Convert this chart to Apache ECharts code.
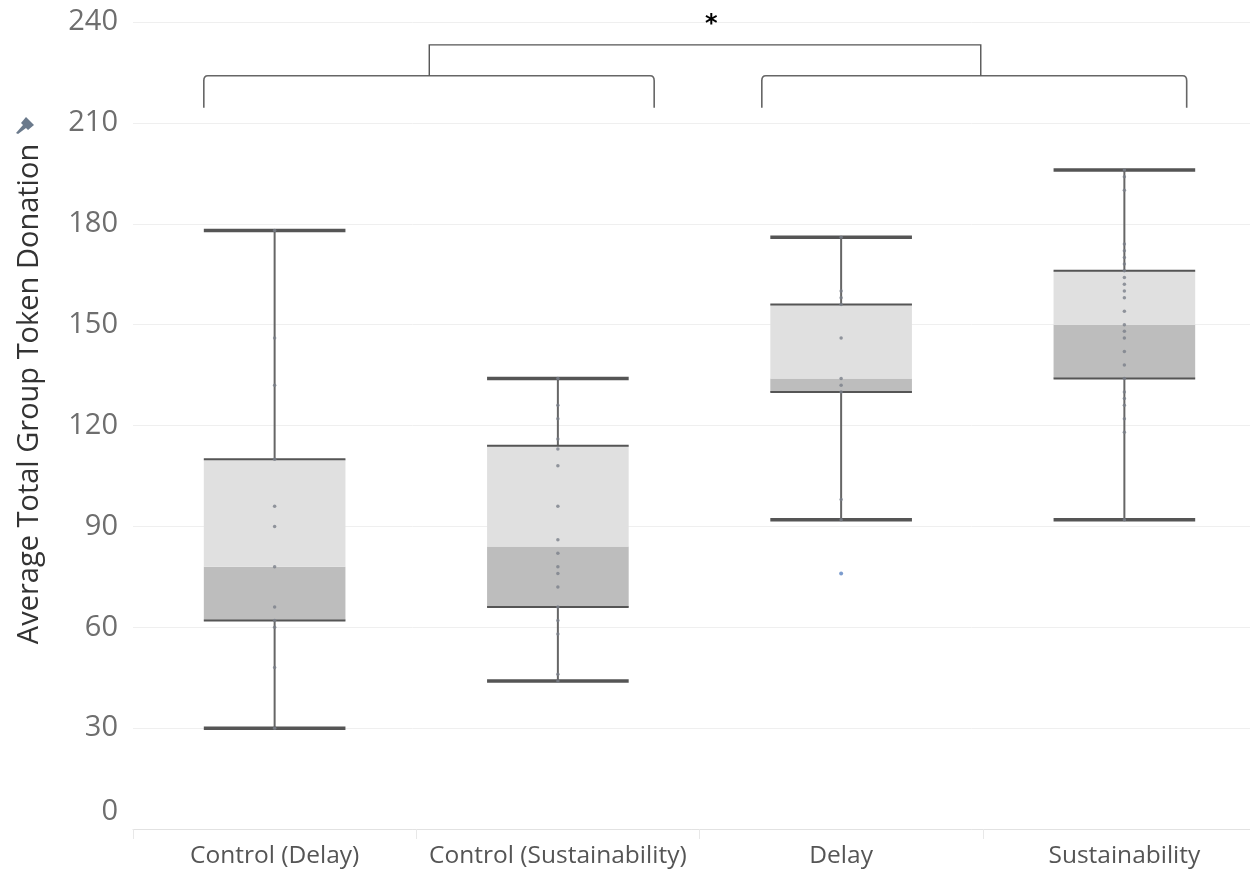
<!DOCTYPE html>
<html><head><meta charset="utf-8">
<script src="https://cdn.jsdelivr.net/npm/echarts@6/dist/echarts.min.js"></script>
<style>html,body{margin:0;padding:0;background:#fff}#c{width:1250px;height:874px}</style>
</head><body><div id="c"></div>
<script>
const categories = ['Control (Delay)', 'Control (Sustainability)', 'Delay', 'Sustainability'];
const whiskerLow  = [30, 44, 92, 92];
const q1          = [62, 66, 130, 134];
const median      = [78, 84, 134, 150];
const q3          = [110, 114, 156, 166];
const whiskerHigh = [178, 134, 176, 196];

const pointsControlDelay = [30, 48, 60, 62, 66, 78, 90, 96, 110, 132, 146, 178];
const pointsControlSust  = [44, 46, 58, 62, 66, 72, 76, 78, 82, 86, 96, 108, 113, 116, 122, 126, 134];
const pointsDelay        = [92, 98, 130, 132, 134, 146, 156, 158, 160, 176];
const pointsSust         = [92, 118, 122, 126, 128, 130, 134, 138, 142, 146, 148, 150, 154, 158, 160, 162, 164, 166, 168, 170, 172, 174, 190, 194, 196];
const outlierPoints      = [[2, 76]];

const yTicks = [0, 30, 60, 90, 120, 150, 180, 210, 240];

// significance brackets (x in category units, y in data units)
const groupBrackets = [[-0.25, 1.34, 224, 214.5], [1.72, 3.22, 224, 214.5]];
const topBracket = [0.546, 2.493, 233.2, 224];
const starPos = [1.542, 239.3];

const chart = echarts.init(document.getElementById('c'));

const boxData = categories.map((c, i) => [i, whiskerLow[i], q1[i], median[i], q3[i], whiskerHigh[i]]);
const allPoints = [pointsControlDelay, pointsControlSust, pointsDelay, pointsSust];
const scatterData = [];
allPoints.forEach((arr, i) => arr.forEach(v => scatterData.push([i, v])));

const option = {
  animation: false,
  backgroundColor: '#ffffff',
  grid: { left: 133, width: 1133, top: 22, bottom: 45, outerBoundsMode: 'none', containLabel: false },
  xAxis: {
    type: 'category',
    data: categories,
    axisLine: { lineStyle: { color: '#e2e2e2', width: 1 } },
    axisTick: { show: true, interval: 0, length: 10, lineStyle: { color: '#e8e8e8' } },
    axisLabel: { interval: 0, color: '#555', fontSize: 24.5, fontFamily: '"Open Sans"', margin: 15 },
    splitLine: { show: false }
  },
  yAxis: {
    type: 'value',
    min: 0, max: 240, interval: 30,
    axisLine: { show: false },
    axisTick: { show: false },
    splitLine: { lineStyle: { color: '#efefef', width: 1 } },
    axisLabel: {
      color: '#6e6e6e', fontSize: 29, fontFamily: '"Open Sans"', margin: 15,
      formatter: v => v === 0 ? '{z|0}' : String(v),
      rich: { z: { color: '#6e6e6e', fontSize: 29, fontFamily: '"Open Sans"', padding: [0, 0, 34, 0] } }
    }
  },
  graphic: [
    { type: 'text', x: 30, y: 394, rotation: Math.PI / 2,
      style: { text: 'Average Total Group Token Donation', fill: '#333', font: '29px "Open Sans"', textAlign: 'center', textVerticalAlign: 'middle' } },
    { type: 'polygon', x: 16, y: 115,
      shape: { points: [[0, 18], [7, 10], [5, 8], [10, 2], [18, 10], [12, 15], [10, 13], [2, 19]] },
      style: { fill: '#6b7a8c' } }
  ],
  series: [
    {
      type: 'custom',
      data: boxData,
      encode: { x: 0, y: [1, 2, 3, 4, 5] },
      z: 2,
      renderItem: (params, api) => {
        const i = api.value(0);
        const bw = api.size([1, 0])[0] * 0.5;
        const cx = api.coord([i, 0])[0];
        const y = k => api.coord([i, api.value(k)])[1];
        const yLo = y(1), yQ1 = y(2), yMed = y(3), yQ3 = y(4), yHi = y(5);
        const x0 = cx - bw / 2, x1 = cx + bw / 2;
        return { type: 'group', children: [
          { type: 'rect', shape: { x: x0, y: yMed, width: bw, height: yQ1 - yMed }, style: { fill: '#bdbdbd' } },
          { type: 'rect', shape: { x: x0, y: yQ3, width: bw, height: yMed - yQ3 }, style: { fill: '#e0e0e0' } },
          { type: 'line', shape: { x1: cx, y1: yHi, x2: cx, y2: yQ3 }, style: { stroke: '#666', lineWidth: 2 } },
          { type: 'line', shape: { x1: cx, y1: yQ1, x2: cx, y2: yLo }, style: { stroke: '#666', lineWidth: 2 } },
          { type: 'line', shape: { x1: x0, y1: yQ3, x2: x1, y2: yQ3 }, style: { stroke: '#555', lineWidth: 2 } },
          { type: 'line', shape: { x1: x0, y1: yQ1, x2: x1, y2: yQ1 }, style: { stroke: '#555', lineWidth: 2 } },
          { type: 'line', shape: { x1: x0, y1: yHi, x2: x1, y2: yHi }, style: { stroke: '#555', lineWidth: 3.5 } },
          { type: 'line', shape: { x1: x0, y1: yLo, x2: x1, y2: yLo }, style: { stroke: '#555', lineWidth: 3.5 } }
        ]};
      }
    },
    {
      type: 'scatter',
      data: scatterData,
      symbolSize: 3.5,
      z: 3,
      itemStyle: { color: '#7a808a' }
    },
    {
      type: 'scatter',
      data: outlierPoints,
      symbolSize: 4,
      z: 3,
      itemStyle: { color: '#5b83c2' }
    },
    {
      type: 'custom',
      data: [[0, 0]],
      encode: { x: 0, y: 1 },
      z: 4,
      silent: true,
      renderItem: (params, api) => {
        const base = api.coord([0, 0])[0];
        const bw = api.size([1, 0])[0];
        const px = v => base + v * bw;
        const py = v => api.coord([0, v])[1];
        const children = [];
        groupBrackets.forEach(b => {
          const xa = px(b[0]), xb = px(b[1]), yt = py(b[2]), yb = py(b[3]);
          children.push({ type: 'path', shape: { pathData:
            `M${xa},${yb} L${xa},${yt + 5} Q${xa},${yt} ${xa + 4},${yt} L${xb - 4},${yt} Q${xb},${yt} ${xb},${yt + 5} L${xb},${yb}` },
            style: { stroke: '#666', lineWidth: 1.6, fill: null } });
        });
        const ta = px(topBracket[0]), tb = px(topBracket[1]), tt = py(topBracket[2]), tl = py(topBracket[3]);
        children.push({ type: 'polyline', shape: { points: [[ta, tl], [ta, tt], [tb, tt], [tb, tl]] },
          style: { stroke: '#555', lineWidth: 1.4, fill: null } });
        children.push({ type: 'text', style: { x: px(starPos[0]), y: py(starPos[1]), text: '*',
          fill: '#000', font: 'bold 24px "DejaVu Sans"', textAlign: 'center', textVerticalAlign: 'middle' } });
        return { type: 'group', children };
      }
    }
  ]
};
chart.setOption(option);
</script>
</body></html>
